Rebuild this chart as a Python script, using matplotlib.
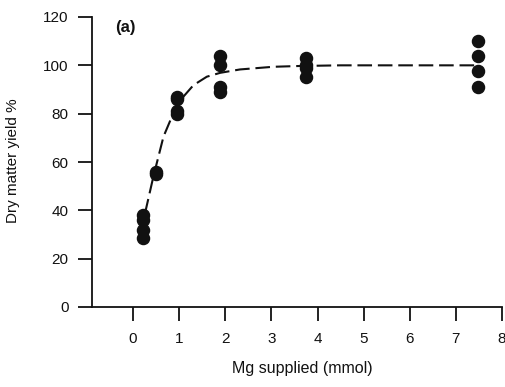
import matplotlib
matplotlib.use("Agg")
import matplotlib.pyplot as plt
import matplotlib.transforms as mtransforms

plt.rcParams['font.family'] = ['Liberation Sans', 'DejaVu Sans']

# Observed dry matter yield (%) at each Mg supply level (mmol)
mg_supplied = [0.22, 0.22, 0.22, 0.22,
               0.5, 0.5,
               0.95, 0.95, 0.95, 0.95,
               1.89, 1.89, 1.89, 1.89,
               3.75, 3.75, 3.75, 3.75,
               7.47, 7.47, 7.47, 7.47]
yield_pct = [38, 36, 32, 28.5,
             55, 56,
             87, 86, 81, 80,
             104, 100, 91, 89,
             103, 100, 99, 95,
             110, 104, 97.5, 91]

# Fitted response curve
curve_x = [0.26, 0.44, 0.66, 0.87, 1.09, 1.31, 1.6, 1.89, 2.32, 3.04, 3.55, 4.5, 6.0, 7.47]
curve_y = [38.8, 53.9, 70.5, 80, 87, 91.8, 95.3, 96.9, 98.3, 99.4, 99.7, 100, 100, 100]

x_ticks = [0, 1, 2, 3, 4, 5, 6, 7, 8]
y_ticks = [0, 20, 40, 60, 80, 100, 120]

ink = '#111111'

fig = plt.figure(figsize=(5.06, 3.87), dpi=100)
ax = fig.add_axes([92 / 506, 1 - 307 / 387, 410 / 506, 290 / 387])

ax.plot(curve_x, curve_y, color=ink, lw=1.5, dashes=(7, 2.8),
        solid_capstyle='butt', dash_capstyle='butt', zorder=2)
ax.plot(mg_supplied, yield_pct, 'o', color=ink, ms=8.7, mec=ink, zorder=3)

ax.set_xlim(-0.89, 8)
ax.set_ylim(0, 120)
ax.set_xticks(x_ticks)
ax.set_yticks(y_ticks)

for side in ('top', 'right'):
    ax.spines[side].set_visible(False)
for side in ('left', 'bottom'):
    ax.spines[side].set_linewidth(1.3)
    ax.spines[side].set_color(ink)

ax.tick_params(axis='both', direction='out', length=10, width=1.3,
               colors=ink, labelsize=11, pad=7)
ax.tick_params(axis='x', pad=8)

fig.text(13 / 506, 1 - 161 / 387, 'Dry matter yield %', rotation=90,
         ha='center', va='center', fontsize=11, color=ink)
trans = mtransforms.blended_transform_factory(ax.transAxes, fig.transFigure)
ax.text((302 - 92) / 410, 1 - 369 / 387, 'Mg supplied (mmol)', transform=trans,
        ha='center', va='center', fontsize=11.5, color=ink)

ax.text(-0.17, 115.8, '(a)', fontsize=12, fontweight='bold', color=ink,
        ha='center', va='center')

fig.savefig('out.png', dpi=100)
